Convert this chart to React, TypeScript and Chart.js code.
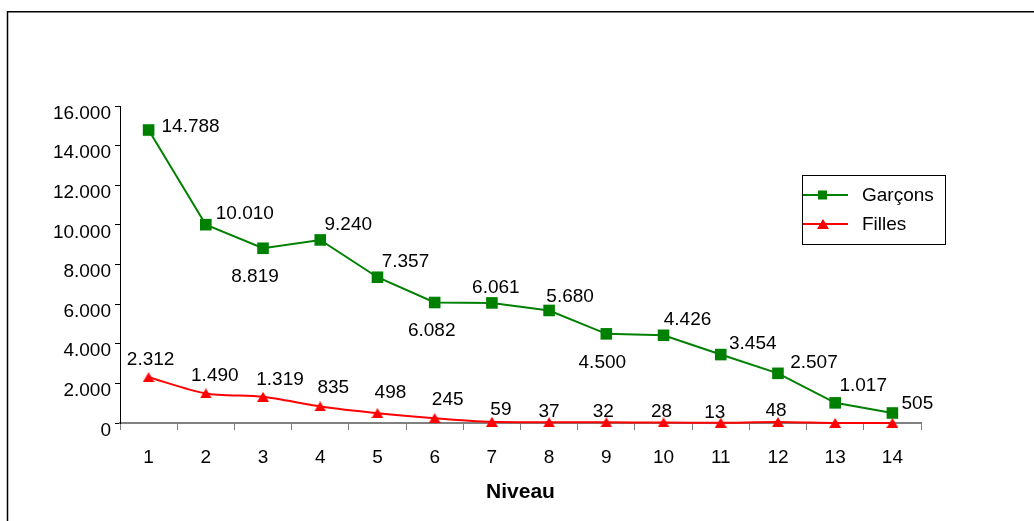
import React, { useEffect, useRef } from 'react';
import { Chart, registerables } from 'chart.js';

Chart.register(...registerables);

// ---- Data ----
const categories = ['1', '2', '3', '4', '5', '6', '7', '8', '9', '10', '11', '12', '13', '14'];
const garcons = [14788, 10010, 8819, 9240, 7357, 6082, 6061, 5680, 4500, 4426, 3454, 2507, 1017, 505];
const filles = [2312, 1490, 1319, 835, 498, 245, 59, 37, 32, 28, 13, 48, 0, 0];
const seriesNames = ['Garçons', 'Filles'];
const axisTitle = 'Niveau';
const yMin = 0;
const yMax = 16000;
const yStep = 2000;

// ---- Styling (label offsets relative to each point, in px) ----
const garconsLabelOffsets: [number, number][] = [
  [42, -3], [39, -11], [-8, 28], [28, -15], [28, -15], [-3, 28], [4, -15],
  [21, -14], [-4, 29], [24, -16], [32, -11], [36, -11], [28, -17], [25, -9],
];
const fillesLabelOffsets: ([number, number] | null)[] = [
  [2, -17], [9, -18], [17, -17], [13, -19], [13, -20], [13, -18], [9, -12],
  [0, -11], [-3, -11], [-2, -11], [-6, -10], [-2, -11], null, null,
];

const FONT = '"Liberation Sans", Arial, sans-serif';
const GREEN = '#008000';
const RED = '#FF0000';

const fmt = (v: number) => String(Math.round(v)).replace(/\B(?=(\d{3})+(?!\d))/g, '.');

function makeTriangle(color: string): HTMLCanvasElement {
  const c = document.createElement('canvas');
  c.width = 12;
  c.height = 10;
  const ctx = c.getContext('2d')!;
  ctx.fillStyle = color;
  ctx.beginPath();
  ctx.moveTo(6, 0);
  ctx.lineTo(12, 10);
  ctx.lineTo(0, 10);
  ctx.closePath();
  ctx.fill();
  return c;
}

export default function App() {
  const ref = useRef<HTMLCanvasElement>(null);

  useEffect(() => {
    if (!ref.current) return;
    const tri = makeTriangle(RED);

    const framePlugin = {
      id: 'frame',
      beforeDraw(chart: any) {
        const ctx = chart.ctx;
        ctx.save();
        ctx.fillStyle = '#ffffff';
        ctx.fillRect(0, 0, chart.width, chart.height);
        ctx.strokeStyle = '#000000';
        ctx.lineWidth = 1.5;
        ctx.beginPath();
        ctx.moveTo(7.5, chart.height + 2);
        ctx.lineTo(7.5, 11.75);
        ctx.lineTo(chart.width + 2, 11.75);
        ctx.stroke();
        ctx.restore();
      },
    };

    const labelsPlugin = {
      id: 'pointLabels',
      afterDatasetsDraw(chart: any) {
        const ctx = chart.ctx;
        ctx.save();
        ctx.font = `19px ${FONT}`;
        ctx.fillStyle = '#000000';
        ctx.textAlign = 'center';
        ctx.textBaseline = 'middle';
        const sets: [number[], ([number, number] | null)[]][] = [
          [garcons, garconsLabelOffsets],
          [filles, fillesLabelOffsets],
        ];
        sets.forEach(([vals, offs], di) => {
          const meta = chart.getDatasetMeta(di);
          meta.data.forEach((pt: any, i: number) => {
            const off = offs[i];
            if (!off) return;
            ctx.fillText(fmt(vals[i]), pt.x + off[0], pt.y + off[1]);
          });
        });
        ctx.restore();
      },
    };

    const legendPlugin = {
      id: 'boxLegend',
      afterDraw(chart: any) {
        const ctx = chart.ctx;
        ctx.save();
        ctx.strokeStyle = '#000000';
        ctx.lineWidth = 1;
        ctx.strokeRect(802.5, 175.5, 143, 69);
        const rows = [
          { y: 195, color: GREEN, name: seriesNames[0], marker: 'rect' },
          { y: 224, color: RED, name: seriesNames[1], marker: 'tri' },
        ];
        rows.forEach((r) => {
          ctx.strokeStyle = r.color;
          ctx.lineWidth = 2;
          ctx.beginPath();
          ctx.moveTo(803, r.y);
          ctx.lineTo(848, r.y);
          ctx.stroke();
          ctx.fillStyle = r.color;
          if (r.marker === 'rect') {
            ctx.fillRect(818, r.y - 4.5, 9, 9);
          } else {
            ctx.drawImage(tri, 823 - 6, r.y - 5);
          }
          ctx.fillStyle = '#000000';
          ctx.font = `19px ${FONT}`;
          ctx.textAlign = 'left';
          ctx.textBaseline = 'middle';
          ctx.fillText(r.name, 862, r.y + 1);
        });
        ctx.restore();
      },
    };

    const chart = new Chart(ref.current, {
      type: 'line',
      data: {
        labels: categories,
        datasets: [
          {
            label: seriesNames[0],
            data: garcons,
            borderColor: GREEN,
            backgroundColor: GREEN,
            borderWidth: 2,
            pointStyle: 'rect',
            pointRadius: 8.2,
            pointBorderWidth: 0,
            pointBackgroundColor: GREEN,
            tension: 0,
            clip: false as any,
          },
          {
            label: seriesNames[1],
            data: filles,
            borderColor: RED,
            backgroundColor: RED,
            borderWidth: 2,
            pointStyle: tri as any,
            pointRadius: 6,
            pointBorderWidth: 0,
            tension: 0.25,
            clip: false as any,
          },
        ],
      },
      options: {
        responsive: false,
        animation: false,
        devicePixelRatio: 1,
        layout: { padding: { top: 106, right: 113, left: 0, bottom: 0 } },
        plugins: {
          legend: { display: false },
          tooltip: { enabled: false },
          title: { display: false },
        },
        scales: {
          x: {
            type: 'category',
            offset: true,
            afterFit: (scale: any) => {
              scale.height = 98;
            },
            grid: {
              offset: true,
              drawOnChartArea: false,
              drawTicks: true,
              tickLength: 7,
              color: '#808080',
              lineWidth: 1,
            },
            border: { display: true, color: '#808080', width: 2 },
            ticks: {
              color: '#000000',
              font: { family: FONT, size: 19 },
              padding: 16,
              maxRotation: 0,
              autoSkip: false,
            },
            title: {
              display: true,
              text: axisTitle,
              color: '#000000',
              font: { family: FONT, size: 21, weight: 'bold' },
              padding: { top: 0, bottom: 16 },
            },
          },
          y: {
            min: yMin,
            max: yMax,
            afterFit: (scale: any) => {
              scale.width = 120;
            },
            grid: {
              drawOnChartArea: false,
              drawTicks: true,
              tickLength: 5,
              color: '#000000',
              lineWidth: 1,
            },
            border: { display: true, color: '#000000', width: 1 },
            ticks: {
              stepSize: yStep,
              color: '#000000',
              font: { family: FONT, size: 19 },
              padding: 4,
              labelOffset: 7.5,
              callback: (v: any) => fmt(Number(v)),
            },
          },
        },
      },
      plugins: [framePlugin, labelsPlugin, legendPlugin],
    });

    return () => chart.destroy();
  }, []);

  return (
    <div style={{ position: 'fixed', left: 0, top: 0, width: 1034, height: 521, background: '#fff' }}>
      <canvas ref={ref} width={1034} height={521} style={{ display: 'block', width: 1034, height: 521 }} />
    </div>
  );
}
